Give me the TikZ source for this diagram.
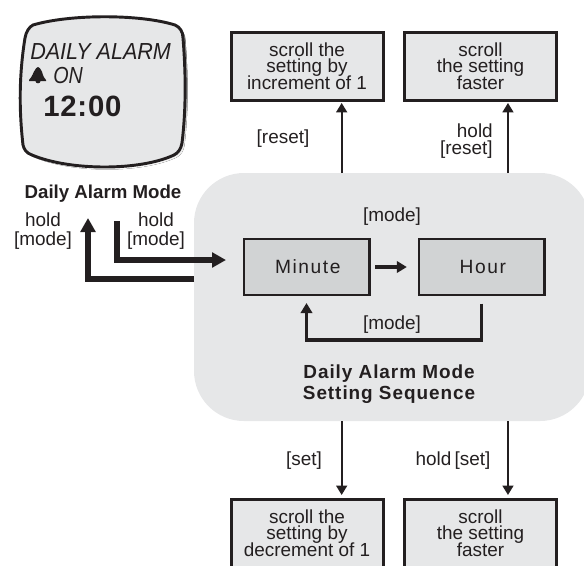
\documentclass[tikz,border=0pt]{standalone}
\usepackage{fontspec}
\setmainfont{Liberation Sans}
\newfontfamily\spacedfont[LetterSpace=8]{Liberation Sans}
\newfontfamily\spacedbold[LetterSpace=5]{Liberation Sans Bold}
\usetikzlibrary{arrows.meta}
\definecolor{ink}{HTML}{231F20}
\definecolor{panel}{HTML}{E6E7E8}
\definecolor{stepfill}{HTML}{D1D3D4}
\definecolor{shade}{HTML}{A7A9AC}
\newcommand{\tightbody}{\fontsize{14.2pt}{12.5pt}\selectfont\lineskiplimit=-6pt\relax}
\newcommand{\looserbody}{\fontsize{14.2pt}{14pt}\selectfont\lineskiplimit=-6pt\relax}
\tikzset{
  x=0.75pt,y=-0.75pt,
  txt/.style={font=\tightbody,text=ink,inner sep=0pt,align=center},
  lbl/.style={txt,anchor=base},
  actionbox/.style={txt,draw=ink,line width=2.25pt,fill=panel,minimum width=114pt,minimum height=51pt,outer sep=0pt},
  statebox/.style={draw=ink,line width=2pt,fill=stepfill,minimum width=94pt,minimum height=42pt,outer sep=0pt,inner sep=0pt,text=ink,font=\fontsize{14.4pt}{16pt}\spacedfont},
  thinarrow/.style={draw=ink,line width=1.6pt,-{Triangle[length=7pt,width=8pt]}},
  midarrow/.style={draw=ink,line width=2.8pt,-{Triangle[length=7.5pt,width=8.5pt]}},
  heavyarrow/.style={draw=ink,line width=3.8pt,-{Triangle[length=10.5pt,width=11pt]}},
}
\begin{document}
\begin{tikzpicture}
\useasboundingbox (0,0) rectangle (584,565);
% panel
\node[fill=panel,rounded corners=37.5pt,minimum width=297pt,minimum height=186pt,inner sep=0pt,outer sep=0pt] (region) at (392,297) {};
% watch
\def\watchpath{(33,25) .. controls (70,14) and (140,14) .. (175,25) .. controls (180,27) and (183,32) .. (183,38) .. controls (186,75) and (186,110) .. (182,143) .. controls (181,149) and (178,153) .. (174,155) .. controls (140,171) and (70,171) .. (32,155) .. controls (26,153) and (24,149) .. (23,145) .. controls (19,110) and (19,75) .. (25,38) .. controls (26,32) and (29,27) .. (33,25) -- cycle}
\begin{scope}[shift={(2.5,2.5)}]
\fill[shade] \watchpath;
\end{scope}
\draw[ink,line width=2.2pt,fill=panel] \watchpath;
\node[anchor=base west,inner sep=0pt,text=ink,font=\fontsize{17.4pt}{20pt}\selectfont\itshape] (t1) at (30,59) {\scalebox{0.93}[1]{DAILY ALARM}};
\node[anchor=base west,inner sep=0pt,text=ink,font=\fontsize{17.4pt}{20pt}\selectfont\itshape] (t2) at (53,83) {\scalebox{0.85}[1]{ON}};
\node[anchor=base west,inner sep=0pt,text=ink,font=\fontsize{22pt}{24pt}\selectfont\bfseries] (t3) at (43,116) {1\kern.6pt2\kern.6pt:\kern.6pt0\kern.6pt0};
\fill[ink] (38,67) .. controls (40,67) and (40,69) .. (41,70) .. controls (43,72) and (42,76) .. (46,80) -- (46,81) -- (40.5,81) .. controls (40.5,84) and (35.5,84) .. (35.5,81) -- (29,81) -- (29,80) .. controls (33,76) and (33,72) .. (35,70) .. controls (36,69) and (36,67) .. (38,67) -- cycle;
\node[lbl,font=\fontsize{14pt}{16pt}\selectfont\bfseries] (caption) at (103,198) {Daily Alarm Mode};
\node[txt,font=\looserbody] (hl) at (43,231) {hold\\{}[mode]};
\node[txt,font=\looserbody] (hr) at (156,231) {hold\\{}[mode]};
% action boxes
\node[actionbox] (a) at (307,66) {scroll the\\setting by\\increment of 1};
\node[actionbox] (b) at (480.5,66) {scroll\\the setting\\faster};
\node[actionbox] (c) at (307,533) {scroll the\\setting by\\decrement of 1};
\node[actionbox] (d) at (480.5,533) {scroll\\the setting\\faster};
% states
\node[statebox] (minute) at (306.5,267) {\hspace{2pt}Minute};
\node[statebox] (hour) at (481.5,267) {\hspace{2pt}Hour};
% labels
\node[lbl] (l1) at (283,143) {[reset]};
\node[txt,anchor=east,align=right] (l2) at (493,141) {hold\\{}[reset]};
\node[lbl] (l3) at (392,221) {[mode]};
\node[lbl] (l4) at (392,329) {[mode]};
\node[lbl] (l5) at (304,465) {[set]};
\node[lbl] (l6) at (453,465) {hold\,[set]};
\node[lbl,font=\fontsize{14.2pt}{15pt}\spacedbold] (l7) at (389,378) {Daily Alarm Mode};
\node[lbl,font=\fontsize{14.2pt}{15pt}\spacedbold] (l8) at (389,399) {Setting Sequence};
% connectors
\coordinate (ua) at ([xshift=26pt]a.south);
\coordinate (ub) at ([xshift=20.6pt]b.south);
\coordinate (uc) at ([xshift=26pt]c.north);
\coordinate (ud) at ([xshift=20.6pt]d.north);
\draw[thinarrow,shorten >=2.2pt] (ua |- region.north) -- (ua);
\draw[thinarrow,shorten >=2.2pt] (ub |- region.north) -- (ub);
\draw[thinarrow,shorten >=3pt] (uc |- region.south) -- (uc);
\draw[thinarrow,shorten >=3pt] (ud |- region.south) -- (ud);
\draw[midarrow,shorten <=4.5pt,shorten >=9pt] (minute.east) -- (hour.west);
\coordinate (loopy) at (392,340);
\draw[midarrow,shorten <=6.5pt,shorten >=6pt] (hour.south) |- (loopy) -| (minute.south);
\coordinate (instart) at (117,221);
\coordinate (inend) at (226,260);
\draw[heavyarrow] (instart) |- (inend);
\coordinate (outstart) at (194,279);
\coordinate (outend) at (88,218);
\draw[heavyarrow] (outstart) -| (outend);
\end{tikzpicture}
\end{document}
